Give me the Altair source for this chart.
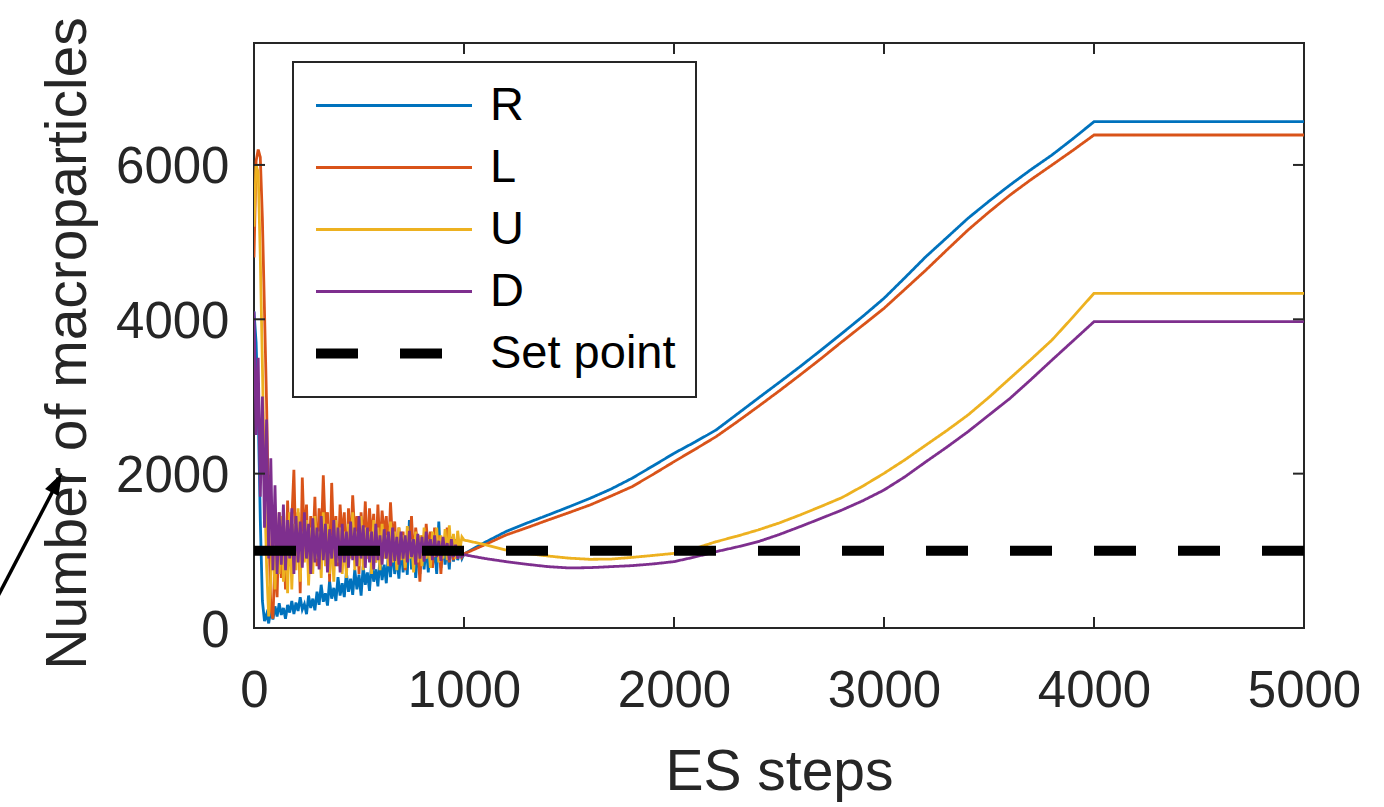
import altair as alt
import pandas as pd

SERIES = ["R", "L", "U", "D", "Set point"]
COLORS = ["#0072BD", "#D95319", "#EDB120", "#7E2F8E", "#000000"]

# ES steps 0..1000 (every 10 steps): noisy transient
steps_noisy = list(range(0, 1001, 10))
R_noisy = [4100, 3700, 2800, 1400, 350, 90, 180, 60, 240, 110,
           280, 150, 320, 170, 260, 120, 300, 200, 350, 180,
           330, 220, 400, 240, 310, 180, 420, 260, 380, 230,
           470, 300, 560, 340, 450, 290, 610, 380, 520, 350,
           660, 420, 580, 400, 720, 470, 640, 430, 760, 500,
           690, 420, 800, 560, 720, 480, 850, 600, 760, 540,
           900, 620, 820, 580, 960, 660, 1050, 700, 920, 640,
           1100, 720, 980, 690, 1400, 760, 1150, 650, 1020, 700,
           1180, 760, 1080, 720, 1200, 800, 1050, 700, 1380, 780,
           1120, 820, 1060, 760, 1180, 860, 1040, 880, 1000, 900,
           960]
L_noisy = [4800, 6050, 6200, 6100, 5300, 4100, 2900, 1400, 250, 120,
           900, 400, 1500, 650, 1300, 500, 1650, 800, 1400, 2050,
           900, 1500, 450, 1950, 1100, 1600, 700, 1450, 1000, 1700,
           800, 1550, 1100, 1980, 1200, 1500, 600, 1880, 1050, 1450,
           800, 1600, 1150, 1500, 750, 1550, 1000, 1720, 1200, 1450,
           700, 1500, 1050, 1640, 900, 1550, 1150, 1480, 850, 1600,
           1000, 1520, 1200, 1450, 900, 1630, 1100, 1380, 800, 1300,
           950, 1250, 750, 1200, 1000, 1450, 850, 1300, 1050, 600,
           1200, 900, 1350, 1000, 1250, 780, 1300, 950, 1200, 700,
           1150, 950, 1300, 850, 1100, 880, 1150, 900, 1050, 920,
           960]
U_noisy = [5200, 6000, 5900, 4800, 3400, 1900, 800, 150, 650, 1250,
           500, 1300, 700, 1450, 600, 1200, 450, 1500, 500, 1350,
           750, 1550, 600, 1250, 850, 1400, 550, 1300, 700, 1450,
           900, 1250, 650, 1500, 800, 1350, 700, 1200, 600, 1400,
           850, 1300, 700, 1250, 650, 1350, 900, 1500, 750, 1250,
           800, 1450, 750, 1300, 900, 1250, 700, 1400, 850, 1300,
           750, 1350, 900, 1200, 800, 1380, 850, 1250, 750, 1300,
           880, 1200, 780, 1320, 900, 1150, 720, 1250, 850, 1200,
           800, 1300, 900, 1150, 780, 1250, 920, 1300, 850, 1200,
           900, 1280, 880, 1330, 950, 1220, 900, 1260, 1000, 1180,
           1140]
D_noisy = [4100, 2500, 3500, 1700, 3000, 1300, 2700, 900, 2200, 750,
           1850, 700, 1500, 820, 1600, 750, 1400, 900, 1550, 700,
           1450, 850, 1380, 780, 1500, 900, 1350, 700, 1420, 850,
           1300, 760, 1450, 880, 1350, 720, 1280, 900, 1400, 800,
           1300, 720, 1350, 850, 1250, 780, 1380, 880, 1300, 800,
           1450, 900, 1330, 780, 1300, 850, 1250, 760, 1350, 880,
           1200, 820, 1280, 900, 1250, 800, 1300, 870, 1180, 820,
           1250, 900, 1200, 850, 1260, 920, 1150, 820, 1220, 900,
           1180, 860, 1250, 950, 1150, 880, 1200, 920, 1130, 870,
           1180, 950, 1100, 880, 1150, 920, 1080, 900, 1050, 930,
           950]

# ES steps 1100..4000 (every 100 steps) and the plateau end at 5000
steps_smooth = list(range(1100, 4001, 100)) + [5000]
R_smooth = [1110, 1250, 1360, 1464, 1570, 1680, 1800, 1940, 2100, 2263,
            2410, 2565, 2770, 2976, 3180, 3386, 3600, 3818, 4040, 4272,
            4540, 4813, 5060, 5309, 5530, 5740, 5940, 6129, 6340, 6560,
            6560]
L_smooth = [1080, 1205, 1300, 1399, 1495, 1594, 1710, 1831, 1990, 2155,
            2315, 2479, 2670, 2868, 3070, 3278, 3490, 3710, 3925, 4142,
            4390, 4639, 4900, 5157, 5390, 5610, 5810, 5999, 6190, 6388,
            6388]
U_smooth = [1080, 1011, 965, 933, 905, 890, 893, 915, 940, 967,
            1030, 1118, 1190, 1270, 1360, 1464, 1575, 1690, 1840, 2004,
            2180, 2371, 2560, 2760, 2990, 3235, 3480, 3732, 4030, 4337,
            4337]
D_smooth = [900, 860, 825, 795, 778, 782, 795, 808, 830, 860,
            920, 989, 1050, 1118, 1210, 1313, 1420, 1529, 1650, 1788,
            1960, 2155, 2345, 2544, 2760, 2975, 3220, 3472, 3720, 3969,
            3969]

setpoint_steps = [0, 5000]
setpoint_values = [1000, 1000]

x_ticks = [0, 1000, 2000, 3000, 4000, 5000]
y_ticks = [0, 2000, 4000, 6000]

W, H = 1050, 585
TXT = "#262626"
FONT = "Liberation Sans"

rows = []
for name, a, b in [("R", R_noisy, R_smooth), ("L", L_noisy, L_smooth),
                   ("U", U_noisy, U_smooth), ("D", D_noisy, D_smooth)]:
    for s, v in zip(steps_noisy + steps_smooth, a + b):
        rows.append({"step": s, "value": v, "series": name})
for s, v in zip(setpoint_steps, setpoint_values):
    rows.append({"step": s, "value": v, "series": "Set point"})
df = pd.DataFrame(rows)

xscale = alt.Scale(domain=[0, 5000], nice=False, zero=False)
yscale = alt.Scale(domain=[0, 7580], nice=False, zero=False)

xaxis = alt.Axis(values=x_ticks, format="d", title="ES steps", labelFlush=False,
                 labelPadding=38, titleY=161, titleBaseline="alphabetic")
yaxis = alt.Axis(values=y_ticks, format="d", title="Number of macroparticles",
                 labelPadding=25, labelOffset=3,
                 titleX=-169, titleY=300, titleBaseline="alphabetic",
                 titleAlign="center", titleAngle=270)

lines = alt.Chart(df).mark_line(clip=True).encode(
    x=alt.X("step:Q", scale=xscale, axis=xaxis),
    y=alt.Y("value:Q", scale=yscale, axis=yaxis),
    color=alt.Color("series:N", scale=alt.Scale(domain=SERIES, range=COLORS),
                    legend=alt.Legend(title=None)),
    strokeDash=alt.StrokeDash("series:N",
                              scale=alt.Scale(domain=SERIES,
                                              range=[[1, 0], [1, 0], [1, 0], [1, 0], [42, 42]]),
                              legend=alt.Legend(title=None)),
    strokeWidth=alt.StrokeWidth("series:N",
                                scale=alt.Scale(type="ordinal", domain=SERIES,
                                                range=[2.8, 2.8, 2.8, 2.8, 10]),
                                legend=alt.Legend(title=None)),
)

xt = pd.DataFrame({"step": x_ticks})
yt = pd.DataFrame({"value": y_ticks})
tick_style = dict(color=TXT, strokeWidth=2)
bottom_ticks = alt.Chart(xt).mark_rule(**tick_style).encode(
    x=alt.X("step:Q", scale=xscale, axis=xaxis), y=alt.value(H), y2=alt.value(H - 11))
top_ticks = alt.Chart(xt).mark_rule(**tick_style).encode(
    x=alt.X("step:Q", scale=xscale, axis=xaxis), y=alt.value(0), y2=alt.value(11))
left_ticks = alt.Chart(yt).mark_rule(**tick_style).encode(
    y=alt.Y("value:Q", scale=yscale, axis=yaxis), x=alt.value(0), x2=alt.value(11))
right_ticks = alt.Chart(yt).mark_rule(**tick_style).encode(
    y=alt.Y("value:Q", scale=yscale, axis=yaxis), x=alt.value(W - 11), x2=alt.value(W))

# annotation arrow pointing at the y-axis title (outside the plot area)
arrow_line = alt.Chart(pd.DataFrame({"a": [0]})).mark_rule(color="black", strokeWidth=3.5).encode(
    x=alt.value(-256), y=alt.value(553), x2=alt.value(-198), y2=alt.value(442))
arrow_head = alt.Chart(pd.DataFrame({"a": [0]})).mark_point(
    shape="M0,-1L0.55,0.6L-0.55,0.6Z", filled=True, color="black", opacity=1,
    size=756, angle=27.5).encode(x=alt.value(-198.4), y=alt.value(442.2))

chart = alt.layer(lines, bottom_ticks, top_ticks, left_ticks, right_ticks,
                  arrow_line, arrow_head).properties(
    width=W, height=H,
    autosize=alt.AutoSizeParams(type="none"),
    padding={"left": 254, "top": 43, "right": 80, "bottom": 179},
    background="white",
).configure_view(
    stroke=TXT, strokeWidth=2
).configure_axis(
    domain=False, grid=False, ticks=False,
    labelFont=FONT, labelFontSize=51, labelColor=TXT,
    titleFont=FONT, titleFontSize=57, titleColor=TXT, titleFontWeight="normal",
    labelOverlap=False,
).configure_legend(
    orient="none", legendX=39, legendY=19,
    symbolType="stroke", symbolSize=24336, symbolOffset=-2,
    labelFont=FONT, labelFontSize=47, labelColor="black", labelLimit=400,
    strokeColor=TXT, fillColor="white", strokeWidth=2,
    padding=20, clipHeight=47, rowPadding=14, labelOffset=13,
    cornerRadius=0,
)

chart.save("out.html", embed_options={"renderer": "svg", "actions": False})
